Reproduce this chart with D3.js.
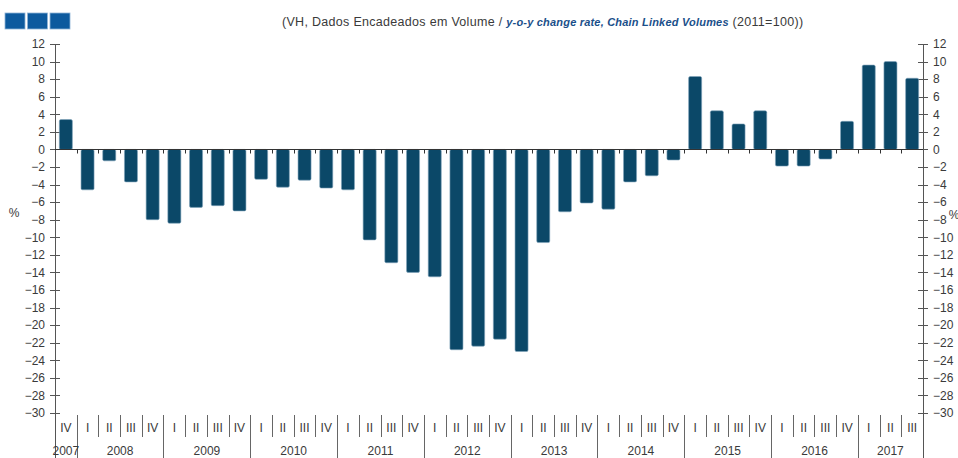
<!DOCTYPE html>
<html>
<head>
<meta charset="utf-8">
<script src="https://cdn.jsdelivr.net/npm/d3@7"></script>
<style>
  body { margin: 0; background: #fff; }
  svg { display: block; font-family: "Liberation Sans", Arial, sans-serif; }
</style>
</head>
<body>
<svg id="chart" width="958" height="458"></svg>
<script>
// quarters from 2007 IV to 2017 III
const years = [2007, 2008, 2009, 2010, 2011, 2012, 2013, 2014, 2015, 2016, 2017];
const quarters = [
  '2007-IV',
  '2008-I', '2008-II', '2008-III', '2008-IV',
  '2009-I', '2009-II', '2009-III', '2009-IV',
  '2010-I', '2010-II', '2010-III', '2010-IV',
  '2011-I', '2011-II', '2011-III', '2011-IV',
  '2012-I', '2012-II', '2012-III', '2012-IV',
  '2013-I', '2013-II', '2013-III', '2013-IV',
  '2014-I', '2014-II', '2014-III', '2014-IV',
  '2015-I', '2015-II', '2015-III', '2015-IV',
  '2016-I', '2016-II', '2016-III', '2016-IV',
  '2017-I', '2017-II', '2017-III'
];
const values = [
  3.4,
  -4.6, -1.3, -3.7, -8.0,
  -8.4, -6.6, -6.4, -7.0,
  -3.4, -4.3, -3.5, -4.4,
  -4.6, -10.3, -12.9, -14.0,
  -14.5, -22.8, -22.4, -21.6,
  -23.0, -10.6, -7.1, -6.1,
  -6.8, -3.7, -3.0, -1.2,
  8.3, 4.4, 2.9, 4.4,
  -1.9, -1.9, -1.1, 3.2,
  9.6, 10.0, 8.1
];
const yTicks = d3.range(-30, 13, 2);

const svg = d3.select('#chart');
const plotLeft = 55, plotRight = 923, plotTop = 44, plotBottom = 413;

const x = d3.scaleBand().domain(quarters).range([plotLeft, plotRight]).paddingInner(0.4).paddingOuter(0.2);
const y = d3.scaleLinear().domain([-30, 12]).range([plotBottom, plotTop]);
const step = x.step();
const gap = step * x.paddingInner() / 2;

// logo squares
svg.selectAll('rect.logo')
  .data([0, 1, 2])
  .enter()
  .append('rect')
  .attr('class', 'logo')
  .attr('x', d => 5 + d * 22.5)
  .attr('y', 13)
  .attr('width', 20)
  .attr('height', 16)
  .attr('fill', '#0d5a9e')
  .attr('stroke', '#8fb3d6')
  .attr('stroke-width', 0.8);

// title
const title = svg.append('text')
  .attr('x', 282)
  .attr('y', 26)
  .attr('font-size', '12.5px')
  .attr('letter-spacing', '0.3px')
  .attr('fill', '#3a3a3a');
title.append('tspan').text('(VH, Dados Encadeados em Volume / ');
title.append('tspan')
  .attr('font-weight', 'bold')
  .attr('font-style', 'italic')
  .attr('fill', '#1a4f8a')
  .attr('font-size', '11px')
  .attr('letter-spacing', '0.2px')
  .text('y-o-y change rate, Chain Linked Volumes');
title.append('tspan').text(' (2011=100))');

// axes
const leftAxis = d3.axisLeft(y).tickValues(yTicks).tickSize(0).tickPadding(10);
const rightAxis = d3.axisRight(y).tickValues(yTicks).tickSize(0).tickPadding(10);

const gl = svg.append('g').attr('transform', `translate(${plotLeft},0)`).call(leftAxis);
const gr = svg.append('g').attr('transform', `translate(${plotRight},0)`).call(rightAxis);
[gl, gr].forEach(g => {
  g.select('.domain').remove();
  g.selectAll('text').attr('font-size', '12px').attr('fill', '#3a3a3a')
    .attr('font-family', '"Liberation Sans", Arial, sans-serif');
});

// tick marks crossing the axes
[plotLeft, plotRight].forEach(ax => {
  svg.append('g')
    .selectAll('line')
    .data(yTicks)
    .enter()
    .append('line')
    .attr('x1', ax - 5)
    .attr('x2', ax + 5)
    .attr('y1', d => Math.round(y(d)) + 0.5)
    .attr('y2', d => Math.round(y(d)) + 0.5)
    .attr('stroke', '#555');
});

svg.append('line').attr('x1', plotLeft + 0.5).attr('x2', plotLeft + 0.5).attr('y1', plotTop).attr('y2', 458).attr('stroke', '#555');
svg.append('line').attr('x1', plotRight + 0.5).attr('x2', plotRight + 0.5).attr('y1', plotTop).attr('y2', 458).attr('stroke', '#555');

// % labels
svg.append('text').attr('x', 14).attr('y', 217).attr('text-anchor', 'middle')
  .attr('font-size', '12px').attr('fill', '#3a3a3a').text('%');
svg.append('text').attr('x', 954).attr('y', 219).attr('text-anchor', 'middle')
  .attr('font-size', '12px').attr('fill', '#3a3a3a').text('%');

// bars
svg.selectAll('rect.bar')
  .data(values)
  .enter()
  .append('rect')
  .attr('class', 'bar')
  .attr('x', (d, i) => x(quarters[i]))
  .attr('width', x.bandwidth())
  .attr('y', d => y(Math.max(0, d)))
  .attr('height', d => Math.abs(y(d) - y(0)))
  .attr('rx', 1.5)
  .attr('fill', '#0b4868')
  .attr('stroke', '#7fa3bb')
  .attr('stroke-width', 0.6);

// zero line with small ticks at category boundaries
const y0 = Math.round(y(0)) + 0.5;
svg.append('line').attr('x1', plotLeft).attr('x2', plotRight).attr('y1', y0).attr('y2', y0).attr('stroke', '#333');
svg.append('g')
  .selectAll('line')
  .data(quarters.slice(1))
  .enter()
  .append('line')
  .attr('x1', q => Math.round(x(q) - gap) + 0.5)
  .attr('x2', q => Math.round(x(q) - gap) + 0.5)
  .attr('y1', y0)
  .attr('y2', y0 + 4)
  .attr('stroke', '#333');

// quarter labels and separators
svg.append('g')
  .selectAll('text')
  .data(quarters)
  .enter()
  .append('text')
  .attr('x', q => x(q) + x.bandwidth() / 2)
  .attr('y', 432)
  .attr('text-anchor', 'middle')
  .attr('font-size', '12px')
  .attr('fill', '#3a3a3a')
  .text(q => q.split('-')[1]);

svg.append('g')
  .selectAll('line')
  .data(quarters.slice(1))
  .enter()
  .append('line')
  .attr('x1', q => Math.round(x(q) - gap) + 0.5)
  .attr('x2', q => Math.round(x(q) - gap) + 0.5)
  .attr('y1', plotBottom + 2)
  .attr('y2', q => q.endsWith('-I') ? 458 : 437)
  .attr('stroke', '#666');

// year labels
svg.append('g')
  .selectAll('text')
  .data(years)
  .enter()
  .append('text')
  .attr('x', yr => {
    const qs = quarters.filter(q => q.startsWith(yr + '-'));
    const a = x(qs[0]) - gap;
    const b = x(qs[qs.length - 1]) + x.bandwidth() + gap;
    return (a + b) / 2;
  })
  .attr('y', 455)
  .attr('text-anchor', 'middle')
  .attr('font-size', '12px')
  .attr('fill', '#3a3a3a')
  .text(d => d);
</script>
</body>
</html>
